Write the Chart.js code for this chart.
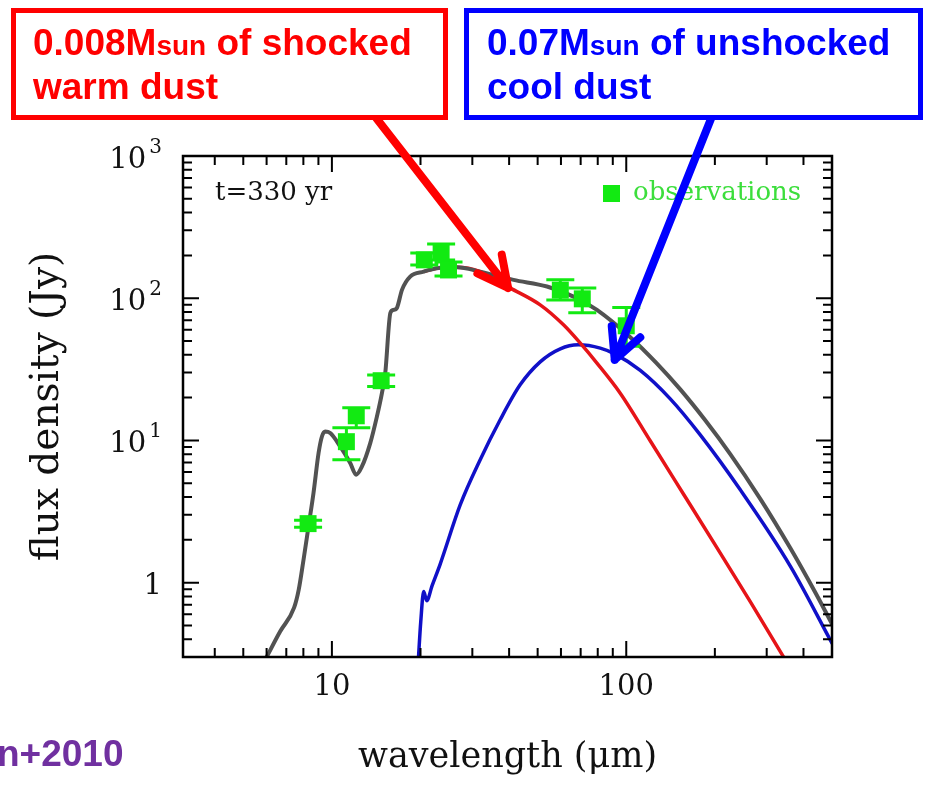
<!DOCTYPE html>
<html>
<head>
<meta charset="utf-8">
<title>Dust SED, t=330 yr</title>
<script src="https://cdn.jsdelivr.net/npm/chart.js@4.4.1/dist/chart.umd.min.js"></script>
<style>
  html, body { margin: 0; padding: 0; background: #fff; overflow: hidden; }
  #wrap { position: relative; width: 933px; height: 785px; }
</style>
</head>
<body>
<div id="wrap"><canvas id="sedChart"></canvas></div>
<script>
// observations (Jy), with lower / upper error bar ends
const obsWave = [8.3, 11.2, 12.1, 14.7, 20.6, 23.5, 24.9, 59.7, 70.9, 100];
const obsFlux = [2.6, 9.8, 14.9, 26.3, 186, 212, 158, 114, 99, 64];
const obsLow  = [2.45, 7.3, 12.3, 23.9, 171, 186, 143, 97, 79, 46];
const obsHigh = [2.75, 12.3, 17.0, 28.9, 208, 241, 180, 135, 118, 86];

// total model (grey)
const totalWave = [5.95, 6.67, 7.44, 7.715, 8.01, 8.33, 8.66, 9.01, 9.25, 9.49, 9.87, 10.67, 11.54, 12.09,
  12.65, 13.5, 14.22, 14.79, 15.18, 15.8, 16.2, 16.63, 17.3, 18.45, 20.5, 22.7, 26.6, 31.9, 41.4, 53.8,
  66.2, 79.5, 103.2, 126.5, 152.6, 185.5, 225.6, 285.3, 360.8, 438.8, 501.2];
const totalFlux = [0.29, 0.453, 0.667, 0.893, 1.45, 2.49, 4.27, 8.15, 10.66, 11.56, 11.27, 9.07, 6.93, 5.74,
  6.56, 9.58, 14.7, 21.5, 29.7, 78.9, 82.8, 85.5, 114.5, 141.9, 153.9, 162.5, 165.2, 153.9, 134.5, 120.8,
  102.7, 82.8, 53.2, 35.1, 22.85, 13.86, 8.02, 3.886, 1.751, 0.852, 0.508];

// 0.008 Msun of shocked warm dust (red)
const warmWave = [20.5, 22.7, 26.6, 31.9, 40.4, 51.0, 61.2, 69.8, 79.5, 95.4, 120.6, 156.2, 202.2, 263.8, 341.7, 390];
const warmFlux = [153.9, 162.5, 165.2, 153.9, 117.7, 89.8, 65.0, 48.3, 35.0, 21.5, 9.95, 4.22, 1.79, 0.735, 0.302, 0.192];

// 0.07 Msun of unshocked cool dust (blue)
const coolWave = [19.65, 20.04, 20.5, 21.0, 21.9, 23.3, 27.3, 31.9, 37.3, 43.6, 51.0, 59.7, 68.7, 81.6,
  91.7, 111.6, 141.1, 178.4, 244.0, 360.8, 501.2];
const coolFlux = [0.28, 0.532, 0.865, 0.747, 0.953, 1.34, 3.53, 7.31, 13.97, 24.6, 35.7, 44.1, 47.0, 44.56,
  40.45, 31.07, 19.6, 10.94, 4.496, 1.308, 0.372];

// axes
const xTickValues = [10, 100];
const xTickLabels = ['10', '100'];
const xMinorTicks = [4, 5, 6, 7, 8, 9, 20, 30, 40, 50, 60, 70, 80, 90, 200, 300, 400];
const yTickValues = [1, 10, 100, 1000];
const yTickLabels = ['1', '10^1', '10^2', '10^3'];
const yMinorTicks = [0.4, 0.5, 0.6, 0.7, 0.8, 0.9, 2, 3, 4, 5, 6, 7, 8, 9,
  20, 30, 40, 50, 60, 70, 80, 90, 200, 300, 400, 500, 600, 700, 800, 900];

// arrows: [tail wavelength, tail flux, tip wavelength, tip flux]
const warmArrow = [14.14, 1850, 39.7, 118];
const coolArrow = [194.5, 1850, 91.4, 36.9];

const obsColor = 'rgb(18, 234, 18)';
const serif = '"DejaVu Serif", "Liberation Serif", serif';
const sans = '"Liberation Sans", Arial, sans-serif';

function toPoints(xs, ys) {
    return xs.map((v, i) => ({ x: v, y: ys[i] }));
}

function drawArrow(ctx, x0, y0, x1, y1, color) {
    const back = Math.atan2(y0 - y1, x0 - x1);
    ctx.strokeStyle = color;
    ctx.lineWidth = 8;
    ctx.lineCap = 'round';
    ctx.lineJoin = 'round';
    ctx.beginPath();
    ctx.moveTo(x0, y0);
    ctx.lineTo(x1, y1);
    [-0.47, 0.47].forEach(d => {
        ctx.moveTo(x1, y1);
        ctx.lineTo(x1 + 34 * Math.cos(back + d), y1 + 34 * Math.sin(back + d));
    });
    ctx.stroke();
}

// one line of box text, "sun" set a bit smaller
function drawParts(ctx, x, y, parts) {
    let cx = x;
    parts.forEach(([text, size]) => {
        ctx.font = 'bold ' + size + 'px ' + sans;
        ctx.fillText(text, cx, y);
        cx += ctx.measureText(text).width;
    });
}

const sedDecor = {
    id: 'sedDecor',
    // error bars go just under the green squares
    beforeDatasetDraw(chart, args) {
        if (args.index !== 0) return;
        const { ctx, scales: { x, y } } = chart;
        ctx.save();
        ctx.strokeStyle = obsColor;
        ctx.lineWidth = 3;
        ctx.beginPath();
        obsWave.forEach((w, i) => {
            const px = x.getPixelForValue(w);
            const lo = y.getPixelForValue(obsLow[i]);
            const hi = y.getPixelForValue(obsHigh[i]);
            ctx.moveTo(px, lo); ctx.lineTo(px, hi);
            ctx.moveTo(px - 14, lo); ctx.lineTo(px + 14, lo);
            ctx.moveTo(px - 14, hi); ctx.lineTo(px + 14, hi);
        });
        ctx.stroke();
        ctx.restore();
    },
    afterDraw(chart) {
        const { ctx, chartArea: a, scales: { x, y } } = chart;
        ctx.save();

        // frame + inward ticks on all four sides
        ctx.strokeStyle = '#000';
        ctx.lineWidth = 2.5;
        ctx.strokeRect(a.left, a.top, a.right - a.left, a.bottom - a.top);
        ctx.lineWidth = 2;
        ctx.beginPath();
        const xTick = (v, len) => {
            const px = x.getPixelForValue(v);
            ctx.moveTo(px, a.bottom); ctx.lineTo(px, a.bottom - len);
            ctx.moveTo(px, a.top); ctx.lineTo(px, a.top + len);
        };
        const yTick = (v, len) => {
            const py = y.getPixelForValue(v);
            ctx.moveTo(a.left, py); ctx.lineTo(a.left + len, py);
            ctx.moveTo(a.right, py); ctx.lineTo(a.right - len, py);
        };
        xTickValues.forEach(v => xTick(v, 16));
        xMinorTicks.forEach(v => xTick(v, 9));
        yTickValues.forEach(v => yTick(v, 16));
        yMinorTicks.forEach(v => yTick(v, 9));
        ctx.stroke();

        // y tick labels with real superscripts
        ctx.fillStyle = '#111';
        ctx.textAlign = 'left';
        ctx.textBaseline = 'alphabetic';
        yTickValues.forEach((v, i) => {
            const [base, exp] = yTickLabels[i].split('^');
            const py = y.getPixelForValue(v);
            ctx.font = '29px ' + serif;
            const bw = ctx.measureText(base).width;
            ctx.font = '20px ' + serif;
            const ew = exp ? ctx.measureText(exp).width + 3 : 0;
            const x0 = a.left - 21 - bw - ew;
            ctx.font = '29px ' + serif;
            ctx.fillText(base, x0, py + 11.5);
            if (exp) {
                ctx.font = '20px ' + serif;
                ctx.fillText(exp, x0 + bw + 3, py - 3);
            }
        });

        // in-panel labels
        ctx.font = '26px ' + serif;
        ctx.fillStyle = '#111';
        ctx.fillText('t=330 yr', a.left + 32, a.top + 44);
        ctx.fillStyle = obsColor;
        ctx.fillRect(a.right - 229, a.top + 29, 17, 17);
        ctx.fillStyle = 'rgb(60, 222, 60)';
        ctx.fillText('observations', a.right - 199, a.top + 44);

        // arrows, then the boxes over their tails
        drawArrow(ctx, x.getPixelForValue(warmArrow[0]), y.getPixelForValue(warmArrow[1]),
            x.getPixelForValue(warmArrow[2]), y.getPixelForValue(warmArrow[3]), '#ff0000');
        drawArrow(ctx, x.getPixelForValue(coolArrow[0]), y.getPixelForValue(coolArrow[1]),
            x.getPixelForValue(coolArrow[2]), y.getPixelForValue(coolArrow[3]), '#0000ff');

        ctx.lineWidth = 5;
        ctx.lineJoin = 'miter';
        ctx.fillStyle = '#fff';
        ctx.fillRect(13.5, 10.5, 432, 107);
        ctx.strokeStyle = '#ff0000';
        ctx.strokeRect(13.5, 10.5, 432, 107);
        ctx.fillRect(466.5, 10.5, 454, 107);
        ctx.strokeStyle = '#0000ff';
        ctx.strokeRect(466.5, 10.5, 454, 107);

        ctx.fillStyle = '#ff0000';
        drawParts(ctx, 33, 55, [['0.008M', 37], ['sun', 28], [' of shocked', 37]]);
        drawParts(ctx, 33, 99, [['warm dust', 37]]);
        ctx.fillStyle = '#0000ff';
        drawParts(ctx, 487, 55, [['0.07M', 37], ['sun', 28], [' of unshocked', 37]]);
        drawParts(ctx, 487, 99, [['cool dust', 37]]);

        // reference label, cut at the left edge as on the slide
        ctx.font = 'bold 37px ' + sans;
        ctx.fillStyle = '#7030a0';
        ctx.textAlign = 'left';
        ctx.fillText('n+2010', -3, 766);

        ctx.restore();
    }
};

const ctx = document.getElementById('sedChart');

ctx.chart = new Chart(ctx, {
    type: 'line',
    data: {
        datasets: [{
            label: 'observations',
            data: toPoints(obsWave, obsFlux),
            showLine: false,
            pointStyle: 'rect',
            pointRadius: 12,
            pointBorderWidth: 0,
            pointBackgroundColor: obsColor,
            pointBorderColor: obsColor,
            order: 0
        },
        {
            label: 'total',
            data: toPoints(totalWave, totalFlux),
            borderColor: '#525252',
            borderWidth: 4,
            pointRadius: 0,
            cubicInterpolationMode: 'monotone',
            order: 1
        },
        {
            label: 'shocked warm dust',
            data: toPoints(warmWave, warmFlux),
            borderColor: 'rgb(230, 20, 24)',
            borderWidth: 3.5,
            pointRadius: 0,
            cubicInterpolationMode: 'monotone',
            order: 2
        },
        {
            label: 'unshocked cool dust',
            data: toPoints(coolWave, coolFlux),
            borderColor: 'rgb(16, 16, 200)',
            borderWidth: 3.5,
            pointRadius: 0,
            cubicInterpolationMode: 'monotone',
            order: 3
        }]
    },
    options: {
        responsive: true,
        maintainAspectRatio: false,
        animation: false,
        events: [],
        layout: { padding: { top: 156, right: 101, left: 0, bottom: 0 } },
        scales: {
            x: {
                type: 'logarithmic',
                min: 3.12,
                max: 500,
                grid: { display: false, drawTicks: false },
                border: { display: false },
                afterBuildTicks: scale => { scale.ticks = xTickValues.map(v => ({ value: v })); },
                afterFit: scale => { scale.height = 128; },
                ticks: {
                    autoSkip: false,
                    maxRotation: 0,
                    padding: 13,
                    color: '#111',
                    font: { family: serif, size: 29 },
                    callback: (value, index) => xTickLabels[index]
                },
                title: {
                    display: true,
                    text: 'wavelength (μm)',
                    color: '#111',
                    font: { family: serif, size: 35 },
                    padding: { top: 0, bottom: 6 }
                }
            },
            y: {
                type: 'logarithmic',
                min: 0.302,
                max: 1000,
                grid: { display: false, drawTicks: false },
                border: { display: false },
                afterBuildTicks: scale => { scale.ticks = yTickValues.map(v => ({ value: v })); },
                afterFit: scale => { scale.width = 183; },
                ticks: { display: false },
                title: {
                    display: true,
                    text: 'flux density (Jy)',
                    color: '#111',
                    font: { family: serif, size: 39 },
                    padding: { top: 24, bottom: 0 }
                }
            }
        },
        plugins: {
            legend: { display: false },
            tooltip: { enabled: false }
        }
    },
    plugins: [sedDecor]
});
</script>
</body>
</html>
